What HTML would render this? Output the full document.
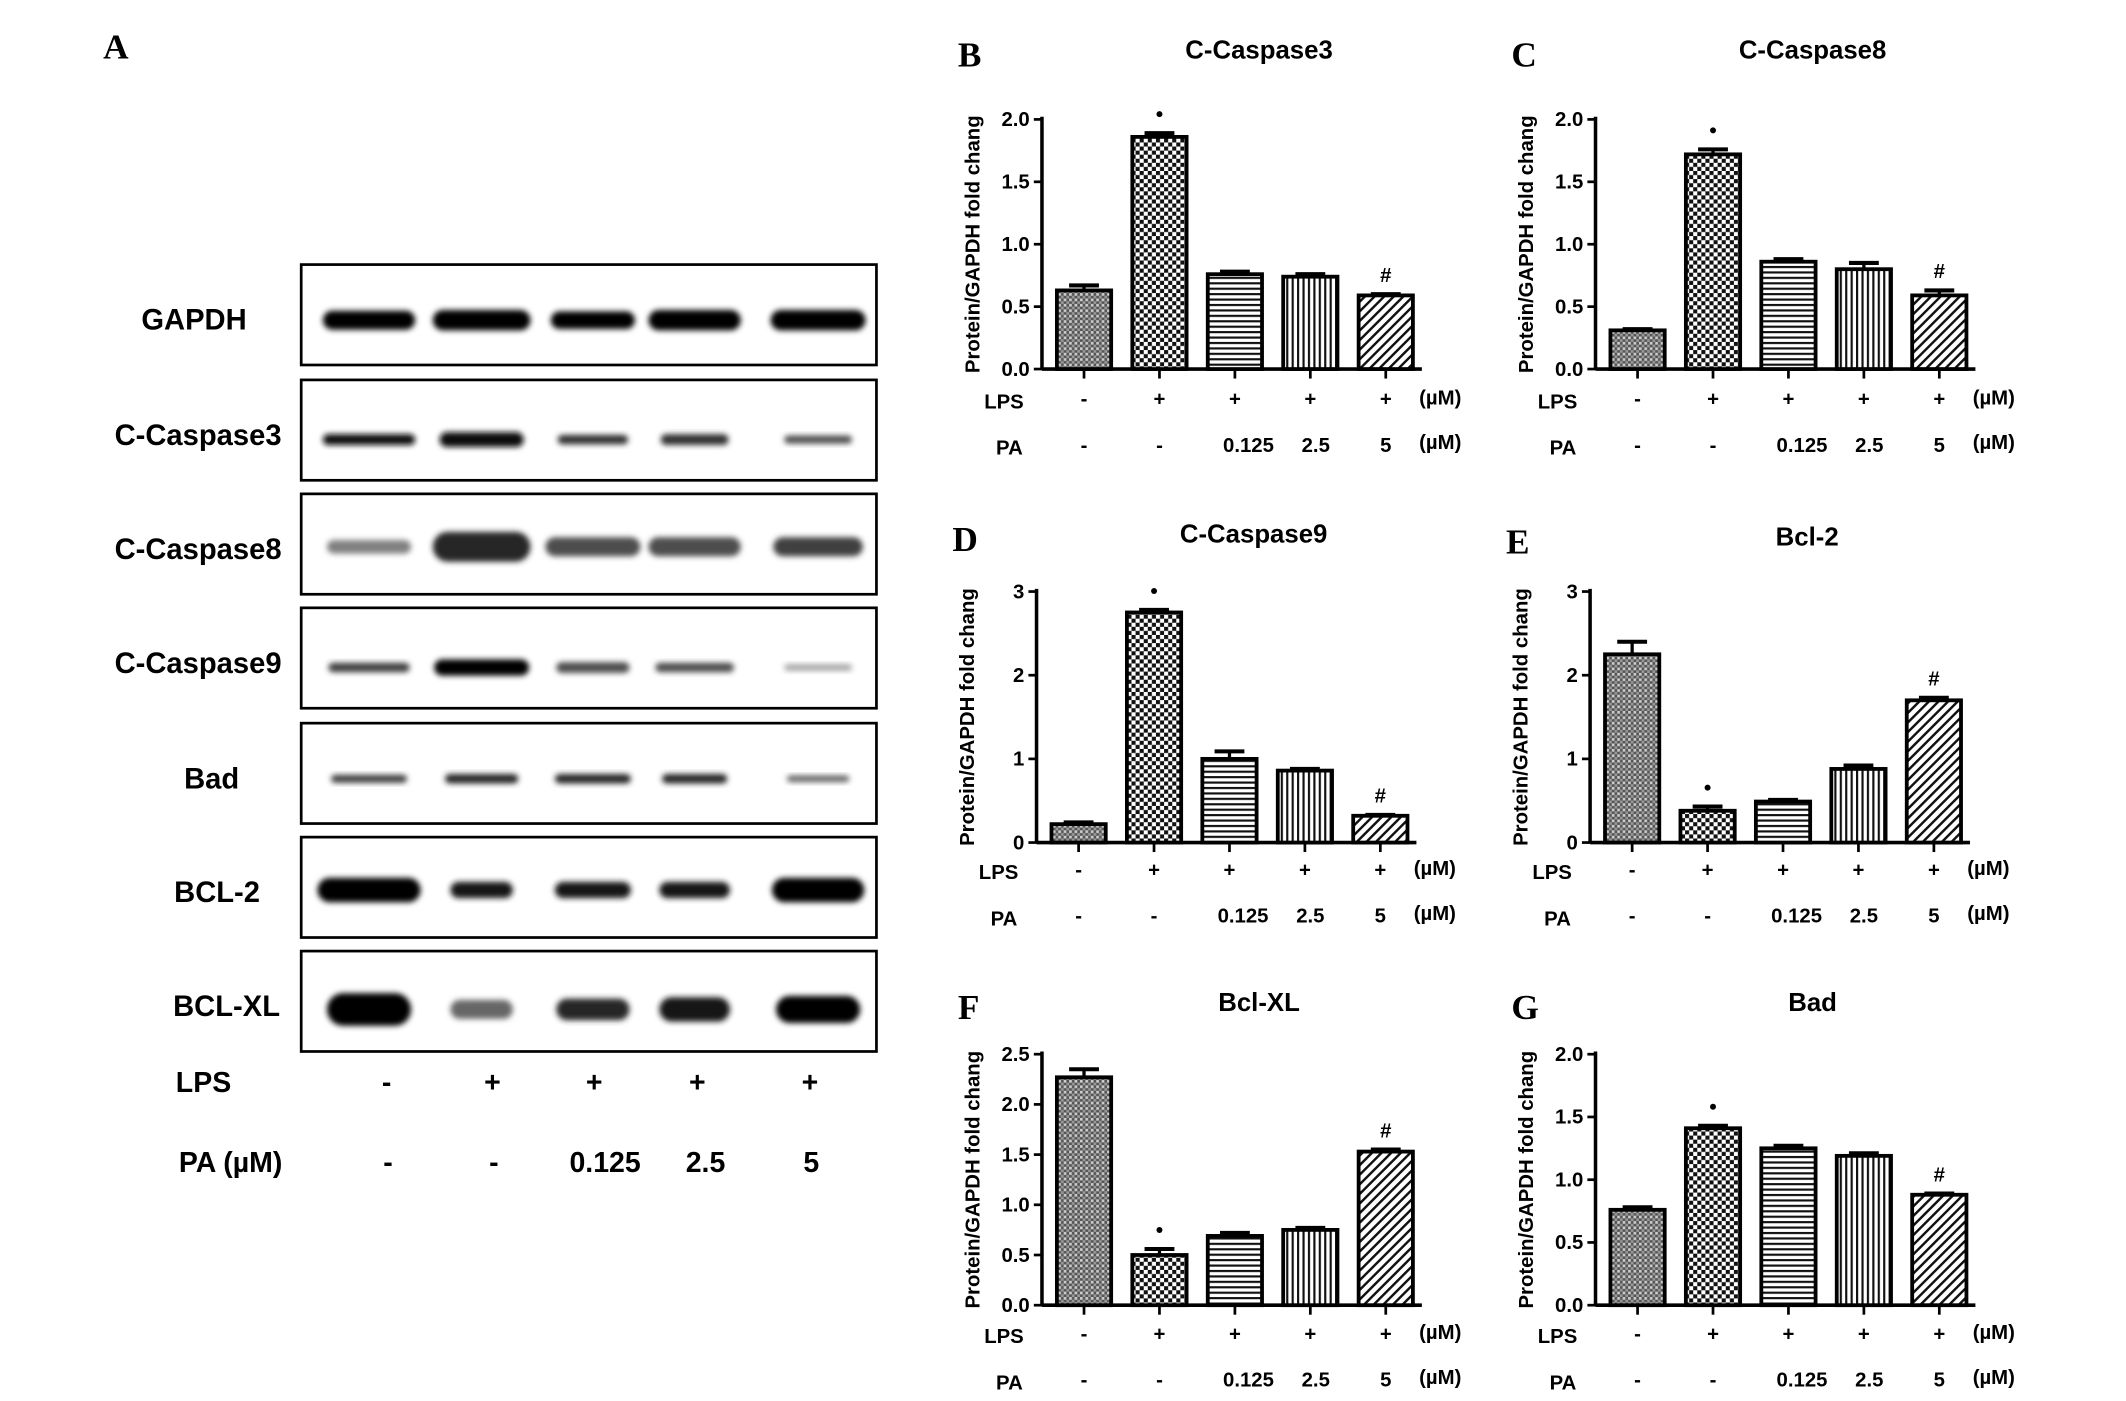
<!DOCTYPE html>
<html><head><meta charset="utf-8"><style>
html,body{margin:0;padding:0;background:#fff;}
svg{display:block;font-family:"Liberation Sans",Arial,sans-serif;font-weight:bold;}
.lt{font-family:"Liberation Serif",serif;font-weight:bold;font-size:26px;}
</style></head><body>
<svg id="fig" width="2126" height="1401" viewBox="0 0 1567 1032.6" xmlns="http://www.w3.org/2000/svg">
<defs>
<pattern id="p0" width="4" height="4" patternUnits="userSpaceOnUse"><rect width="4" height="4" fill="#555"/><rect width="2" height="2" fill="#ccc"/><rect x="2" y="2" width="2" height="2" fill="#999"/></pattern>
<pattern id="p1" width="6" height="6" patternUnits="userSpaceOnUse"><rect width="6" height="6" fill="#fff"/><rect width="3" height="3" fill="#111"/><rect x="3" y="3" width="3" height="3" fill="#111"/></pattern>
<pattern id="p2" width="6" height="4" patternUnits="userSpaceOnUse"><rect width="6" height="4" fill="#fff"/><rect width="6" height="1.6" fill="#111"/></pattern>
<pattern id="p3" width="4" height="6" patternUnits="userSpaceOnUse"><rect width="4" height="6" fill="#fff"/><rect width="1.6" height="6" fill="#111"/></pattern>
<pattern id="p4" width="5" height="5" patternUnits="userSpaceOnUse" patternTransform="rotate(45)"><rect width="5" height="5" fill="#fff"/><rect width="1.8" height="5" fill="#111"/></pattern>
<filter id="blur" x="-20%" y="-50%" width="140%" height="200%"><feGaussianBlur stdDeviation="2.2"/></filter>
</defs>
</svg>
<script>
// ---- chart data ----
const groups = ["g1","g2","g3","g4","g5"];
const lpsLabels = ["-","+","+","+","+"];
const paLabels = ["-","-","0.125","2.5","5"];
const casp3Values = [0.63,1.86,0.76,0.74,0.59];
const casp3Err = [0.04,0.03,0.02,0.02,0.01];
const casp8Values = [0.31,1.72,0.86,0.80,0.59];
const casp8Err = [0.01,0.04,0.02,0.05,0.04];
const casp9Values = [0.22,2.75,1.0,0.86,0.32];
const casp9Err = [0.02,0.03,0.09,0.02,0.01];
const bcl2Values = [2.25,0.38,0.49,0.88,1.70];
const bcl2Err = [0.15,0.05,0.02,0.04,0.03];
const bclxlValues = [2.27,0.50,0.69,0.75,1.53];
const bclxlErr = [0.08,0.06,0.03,0.02,0.02];
const badValues = [0.76,1.41,1.25,1.19,0.88];
const badErr = [0.02,0.02,0.02,0.02,0.01];
const ticks20 = ["0.0","0.5","1.0","1.5","2.0"];
const ticks3 = ["0","1","2","3"];
const ticks25 = ["0.0","0.5","1.0","1.5","2.0","2.5"];

const NS="http://www.w3.org/2000/svg";
const svg=document.getElementById('fig');
function el(tag,attrs,parent){const e=document.createElementNS(NS,tag);for(const k in attrs)e.setAttribute(k,attrs[k]);(parent||svg).appendChild(e);return e;}
function txt(s,attrs,parent){const e=el('text',attrs,parent);e.textContent=s;return e;}

function chart(o){
  const g=el('g',{});
  
  
  const ax=o.ax, y0=o.y0, ytop=o.ytop, maxV=o.maxV;
  const ys=v=>y0-(v/maxV)*(y0-ytop);
  const xs=i=>ax+31+i*55.6;
  const bw=40;
  const l=txt(o.letter,{x:ax-62,y:o.ty+6,class:'lt'},g);
  
  const t=txt(o.title,{x:ax+160,y:o.ty,'font-size':19,'text-anchor':'middle'},g);
  
  el('line',{x1:ax,y1:ytop-2,x2:ax,y2:y0,stroke:'#000','stroke-width':2.6},g);
  el('line',{x1:ax,y1:y0,x2:ax+280,y2:y0,stroke:'#000','stroke-width':2.6},g);
  o.ticks.forEach((s,i)=>{
    const v=parseFloat(s), y=ys(v);
    el('line',{x1:ax-6,y1:y,x2:ax,y2:y,stroke:'#000','stroke-width':2},g);
    const tl=txt(s,{x:ax-9,y:y+5,'font-size':15,'text-anchor':'end'},g);
    
  });
  const yt=txt('Protein/GAPDH fold chang',{x:0,y:0,'font-size':15,'text-anchor':'middle',transform:`translate(${ax-46},${(y0+ytop)/2}) rotate(-90)`},g);
  
  o.values.forEach((v,i)=>{
    const cx=xs(i), yv=ys(v), ye=ys(v+o.err[i]);
    const b=el('rect',{x:cx-bw/2,y:yv,width:bw,height:y0-yv,fill:`url(#p${i})`,stroke:'#000','stroke-width':2.8},g);
    
    el('line',{x1:cx,y1:yv,x2:cx,y2:ye,stroke:'#000','stroke-width':2.4},g);
    el('line',{x1:cx-11,y1:ye,x2:cx+11,y2:ye,stroke:'#000','stroke-width':3},g);
    el('line',{x1:cx,y1:y0,x2:cx,y2:y0+7,stroke:'#000','stroke-width':2},g);
    const a=txt(lpsLabels[i],{x:cx,y:o.ly,'font-size':15,'text-anchor':'middle'},g);
    
    const p=txt(paLabels[i],{x:cx+(i==2?10:i==3?4:0),y:o.ly+34,'font-size':15,'text-anchor':'middle'},g);
    
    if(i==1){const m=el('circle',{cx:cx,cy:ye-14,r:2.2,fill:'#000'},g);}
    if(i==4){const m=txt('#',{x:cx,y:ye-9,'font-size':15,'text-anchor':'middle'},g);}
  });
  txt('LPS',{x:ax-28,y:o.ly+2,'font-size':15,'text-anchor':'middle'},g);
  txt('PA',{x:ax-24,y:o.ly+36,'font-size':15,'text-anchor':'middle'},g);
  txt('(µM)',{x:ax+278,y:o.ly-1,'font-size':15},g);
  txt('(µM)',{x:ax+278,y:o.ly+32,'font-size':15},g);
}
chart({name:'chart-c-caspase3',letter:'B',title:'C-Caspase3',ax:768,y0:272,ytop:88,maxV:2,ticks:ticks20,values:casp3Values,err:casp3Err,ty:43,ly:299});
chart({name:'chart-c-caspase8',letter:'C',title:'C-Caspase8',ax:1176,y0:272,ytop:88,maxV:2,ticks:ticks20,values:casp8Values,err:casp8Err,ty:43,ly:299});
chart({name:'chart-c-caspase9',letter:'D',title:'C-Caspase9',ax:764,y0:621,ytop:436,maxV:3,ticks:ticks3,values:casp9Values,err:casp9Err,ty:400,ly:646});
chart({name:'chart-bcl2',letter:'E',title:'Bcl-2',ax:1172,y0:621,ytop:436,maxV:3,ticks:ticks3,values:bcl2Values,err:bcl2Err,ty:402,ly:646});
chart({name:'chart-bclxl',letter:'F',title:'Bcl-XL',ax:768,y0:962,ytop:777,maxV:2.5,ticks:ticks25,values:bclxlValues,err:bclxlErr,ty:745,ly:988});
chart({name:'chart-bad',letter:'G',title:'Bad',ax:1176,y0:962,ytop:777,maxV:2,ticks:ticks20,values:badValues,err:badErr,ty:745,ly:988});

// ---- Panel A western blot ----
const blotNames=["GAPDH","C-Caspase3","C-Caspase8","C-Caspase9","Bad","BCL-2","BCL-XL"];
const blotLabelX=[143,146,146,146,156,160,167];
const blotTop=[195,280,364,448,533,617,701];
const bandW=[[68,72,62,68,70],[68,62,52,50,50],[62,72,70,68,66],[60,70,54,58,50],[56,54,56,48,46],[76,46,56,52,68],[62,46,54,52,62]];
const bandH=[[14,15,13,15,15],[8,11,7,8,6],[10,22,14,14,14],[7,12,8,7,5],[6,7,7,7,5],[18,12,12,12,18],[24,14,16,18,20]];
const bandDark=[[1,1,1,1,1],[0.95,0.95,0.8,0.8,0.7],[0.5,0.85,0.7,0.7,0.75],[0.75,1,0.7,0.7,0.35],[0.75,0.85,0.85,0.85,0.6],[1,0.9,0.9,0.9,1],[1,0.6,0.85,0.9,1]];
const bandY=[236,324,403,492,574,656,744];
const laneX=[272,355,437,512,603];
const A=txt('A',{x:76,y:43,class:'lt'});

blotNames.forEach((n,r)=>{
  const lb=txt(n,{x:blotLabelX[r],y:blotTop[r]+48,'font-size':21.5,'text-anchor':'middle'});
  
  const bx=el('rect',{x:222,y:blotTop[r],width:424,height:74,fill:'#fff',stroke:'#000','stroke-width':2});
  
  laneX.forEach((x,i)=>{
    const d=bandDark[r][i];
    const c=Math.round(255*(1-d));
    const b=el('rect',{x:x-bandW[r][i]/2,y:bandY[r]-bandH[r][i]/2,width:bandW[r][i],height:bandH[r][i],rx:bandH[r][i]/2,fill:`rgb(${c},${c},${c})`,filter:'url(#blur)'});
    
  });
});
txt('LPS',{x:150,y:805,'font-size':21,'text-anchor':'middle'});
txt('PA (µM)',{x:170,y:864,'font-size':21,'text-anchor':'middle'});
const lpsX=[285,363,438,514,597], paX=[286,364,446,520,598];
lpsLabels.forEach((s,i)=>{const t=txt(s,{x:lpsX[i],y:805,'font-size':21,'text-anchor':'middle'});});
paLabels.forEach((s,i)=>{const t=txt(s,{x:paX[i],y:864,'font-size':21,'text-anchor':'middle'});});
</script>
</body></html>
